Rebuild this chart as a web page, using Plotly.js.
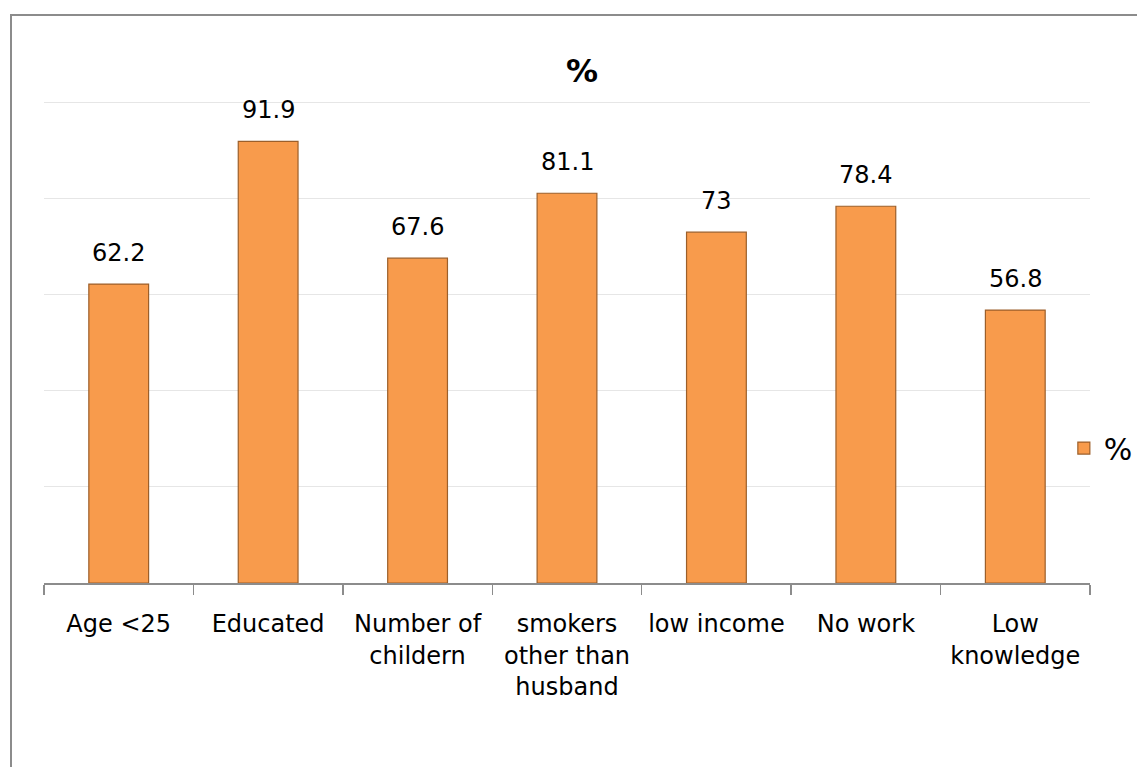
<!DOCTYPE html>
<html>
<head>
<meta charset="utf-8">
<script src="https://cdn.plot.ly/plotly-3.0.1.min.js"></script>
<style>
html,body{margin:0;padding:0;background:#fff;overflow:hidden;}
#frame{position:absolute;left:10px;top:14px;width:1200px;height:800px;border:2px solid #8c8c8c;box-sizing:border-box;pointer-events:none;z-index:5;}
#chart{position:absolute;left:0;top:0;width:1137px;height:767px;}
</style>
</head>
<body>
<div id="chart"></div>
<div id="frame"></div>
<script>
const categories = ["Age <25", "Educated", "Number of<br>childern", "smokers<br>other than<br>husband", "low income", "No work", "Low<br>knowledge"];
const values = [62.2, 91.9, 67.6, 81.1, 73, 78.4, 56.8];
const valueLabels = ["62.2", "91.9", "67.6", "81.1", "73", "78.4", "56.8"];
const seriesName = "%";
const chartTitle = "%";

const FONT = "'Comic Sans MS', 'DejaVu Sans', sans-serif";

const trace = {
  type: 'bar',
  x: categories,
  y: values,
  name: seriesName,
  showlegend: true,
  marker: {color: '#F89B4C', line: {color: '#9C5F2A', width: 1.2}},
  hoverinfo: 'x+y'
};

const annotations = categories.map((c, i) => ({
  x: c, y: values[i], xref: 'x', yref: 'y',
  text: valueLabels[i], showarrow: false,
  yanchor: 'bottom', yshift: 15,
  font: {family: FONT, size: 24, color: '#000'}
}));

const layout = {
  width: 1137, height: 767,
  margin: {l: 44, r: 47, t: 101, b: 184, pad: 0, autoexpand: false},
  paper_bgcolor: '#fff', plot_bgcolor: '#fff',
  title: {text: '<b>' + chartTitle + '</b>', xref: 'container', x: 0.512, xanchor: 'center', yref: 'container', y: 0.908, yanchor: 'middle', font: {family: FONT, size: 32, color: '#000'}},
  bargap: 0.6,
  xaxis: {
    type: 'category', showgrid: false, showline: true, linecolor: '#8c8c8c', linewidth: 1.5,
    ticks: 'outside', tickson: 'boundaries', ticklen: 10, tickcolor: '#8c8c8c', tickwidth: 1.5,
    tickangle: 0,
    tickfont: {family: FONT, size: 24, color: '#000'}, ticklabelstandoff: 19,
    fixedrange: true
  },
  yaxis: {
    range: [0, 100.3], tickvals: [0, 20, 40, 60, 80, 100], showgrid: true, gridcolor: '#e6e6e6', gridwidth: 1.2,
    showticklabels: false, zeroline: false, showline: false, ticks: '', fixedrange: true
  },
  legend: {
    x: 0.975, xanchor: 'left', y: 0.28, yanchor: 'middle',
    font: {family: FONT, size: 30, color: '#000'}, bgcolor: 'rgba(0,0,0,0)'
  },
  annotations: annotations,
  showlegend: true
};

Plotly.newPlot('chart', [trace], layout, {displayModeBar: false, staticPlot: true});
</script>
</body>
</html>
